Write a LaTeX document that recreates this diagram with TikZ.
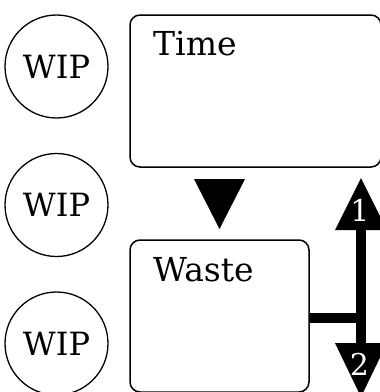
\documentclass[tikz,border=0pt]{standalone}
\usepackage{fontspec}
\setmainfont{DejaVu Serif}
\begin{document}
\begin{tikzpicture}[x=1pt,y=-1pt,
  wip/.style={circle,draw,line width=1.3pt,minimum size=103pt,inner sep=0pt,font=\fontsize{32}{32}\selectfont},
  panel/.style={draw,line width=1.5pt,rounded corners=10pt},
  lbl/.style={anchor=base west,inner sep=0pt,font=\fontsize{33}{33}\selectfont},
  num/.style={text=white,inner sep=0pt,font=\fontsize{30}{30}\selectfont}]
\useasboundingbox (0,0) rectangle (380,392);
\node[wip] (w1) at (56.5,66.5) {WIP};
\node[wip] (w2) at (56.5,205) {WIP};
\node[wip] (w3) at (56.5,343.5) {WIP};
\draw[panel] (130,15) rectangle (381,167);
\node[lbl] (time) at (153,55) {Time};
\draw[panel] (130,240) rectangle (309,392);
\node[lbl] (waste) at (153,281) {Waste};
\fill (194,179) -- (245,179) -- (219.5,229) -- cycle;
\coordinate (vtop) at (361,228);
\coordinate (vbot) at (361,345);
\draw[line width=10pt] (vtop) -- (vbot);
\draw[line width=10pt] (309,317.5) -- (361,317.5);
\fill (361,178) -- (387,230) -- (335,230) -- cycle;
\fill (335,343) -- (387,343) -- (361,397) -- cycle;
\node[num] (n1) at (360,210) {1};
\node[num] (n2) at (359.5,364.5) {2};
\end{tikzpicture}
\end{document}
